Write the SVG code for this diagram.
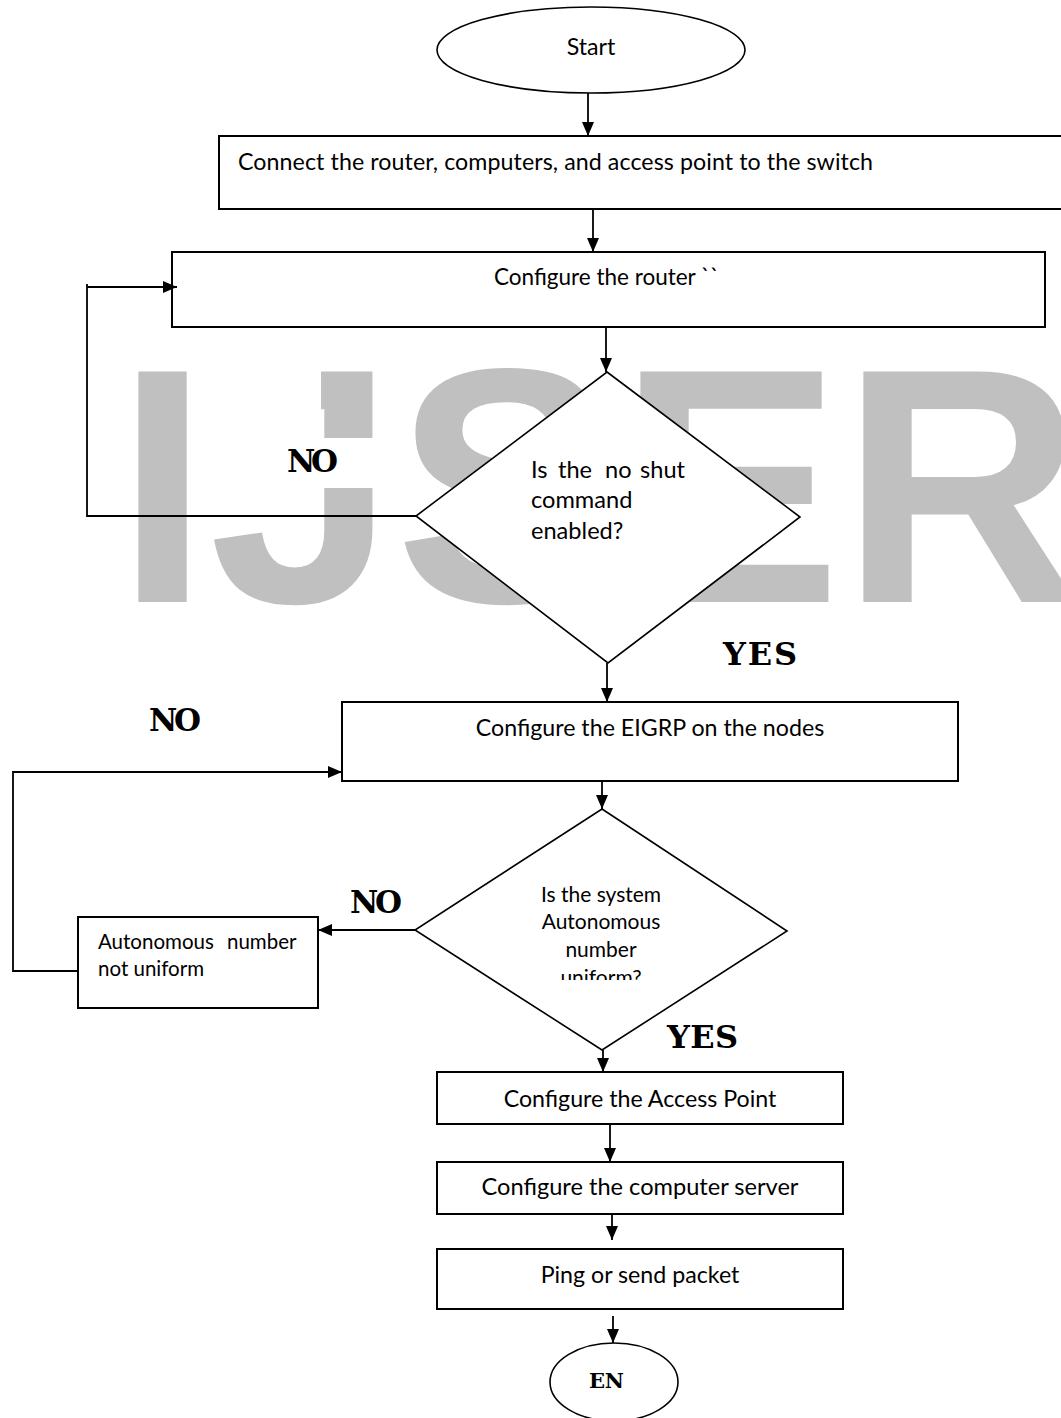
<svg xmlns="http://www.w3.org/2000/svg" width="1061" height="1418" viewBox="0 0 1061 1418">
<style>
  .bg{fill:#ffffff}
  .wm{font-family:"Liberation Sans",Arimo,Arial,sans-serif;font-weight:bold;font-size:335px;fill:#c0c0c0}
  .box{fill:#ffffff;stroke:#000000;stroke-width:2}
  .dia{fill:#ffffff;stroke:#000000;stroke-width:1.6}
  .ell{fill:#ffffff;stroke:#000000;stroke-width:1.6}
  .t{font-family:Lato,"Open Sans",sans-serif;font-size:23.2px;fill:#000000}
  .td{font-family:Lato,"Open Sans",sans-serif;font-size:23.6px;fill:#000000}
  .tb{font-family:Lato,"Open Sans",sans-serif;font-size:20.5px;fill:#000000}
  .ts{font-family:Lato,"Open Sans",sans-serif;font-size:21px;fill:#000000}
  .lbl{font-family:"DejaVu Serif",serif;font-weight:bold;font-size:31px;fill:#000000}
  .conn{fill:none;stroke:#000000;stroke-width:1.8}
</style>
<defs>
  <marker id="ah" markerUnits="userSpaceOnUse" markerWidth="14" markerHeight="12" viewBox="0 0 14 12" refX="14" refY="6" orient="auto">
    <path d="M0,0 L14,6 L0,12 z" fill="#000000"/>
  </marker>
  <clipPath id="clipD2"><rect x="400" y="800" width="400" height="180"/></clipPath>
</defs>
<rect class="bg" x="0" y="0" width="1061" height="1418"/>
<text class="wm" y="602"><tspan x="116">I</tspan><tspan x="209">J</tspan><tspan x="395">S</tspan><tspan x="618">E</tspan><tspan x="841">R</tspan></text>
<rect x="250" y="350" width="71" height="90" fill="#ffffff"/>

<g id="start">
  <ellipse class="ell" cx="591" cy="50" rx="154" ry="43"/>
  <text class="t" x="591" y="55" text-anchor="middle">Start</text>
</g>
<g id="connect">
  <rect class="box" x="219" y="136" width="850" height="73"/>
  <text class="t" x="238" y="170" textLength="635">Connect the router, computers, and access point to the switch</text>
</g>
<g id="configure-router">
  <rect class="box" x="172" y="252" width="873" height="75"/>
  <text class="t" x="494" y="285" style="font-size:22.5px">Configure the router ``</text>
</g>
<g id="decision-noshut">
  <polygon class="dia" points="607,372 800,517 608,663 416,516"/>
  <text class="td"><tspan x="531" y="478">Is</tspan><tspan x="558" y="478">the</tspan><tspan x="605" y="478">no</tspan><tspan x="640" y="478">shut</tspan><tspan x="531" y="508">command</tspan><tspan x="531" y="539">enabled?</tspan></text>
</g>
<g id="label-no1">
  <rect x="250" y="438" width="140" height="50" fill="#ffffff"/>
  <text class="lbl" x="287" y="472" textLength="51">NO</text>
</g>
<g id="label-yes1">
  <text class="lbl" x="723" y="665" textLength="74" style="font-size:32px">YES</text>
</g>
<g id="configure-eigrp">
  <rect class="box" x="342" y="702" width="616" height="79"/>
  <text class="t" x="650" y="736" text-anchor="middle">Configure the EIGRP on the nodes</text>
</g>
<g id="label-no2">
  <text class="lbl" x="149" y="731" textLength="52">NO</text>
</g>
<g id="decision-as">
  <polygon class="dia" points="602,809 787,931 602,1050 415,930"/>
  <g clip-path="url(#clipD2)">
    <text class="ts" text-anchor="middle"><tspan x="601" y="902">Is the system</tspan><tspan x="601" y="929">Autonomous</tspan><tspan x="601" y="957">number</tspan><tspan x="601" y="985">uniform?</tspan></text>
  </g>
</g>
<g id="label-no3">
  <text class="lbl" x="350" y="913" textLength="52">NO</text>
</g>
<g id="as-not-uniform">
  <rect class="box" x="78" y="917" width="240" height="91"/>
  <text class="tb"><tspan x="98" y="949">Autonomous</tspan><tspan x="227" y="949">number</tspan><tspan x="98" y="976">not uniform</tspan></text>
</g>
<g id="label-yes2">
  <text class="lbl" x="667" y="1048" textLength="71" style="font-size:32px">YES</text>
</g>
<g id="configure-ap">
  <rect class="box" x="437" y="1072" width="406" height="52"/>
  <text class="t" x="640" y="1107" text-anchor="middle">Configure the Access Point</text>
</g>
<g id="configure-server">
  <rect class="box" x="437" y="1162" width="406" height="52"/>
  <text class="t" x="640" y="1195" text-anchor="middle" style="font-size:23.6px">Configure the computer server</text>
</g>
<g id="ping">
  <rect class="box" x="437" y="1249" width="406" height="60"/>
  <text class="t" x="640" y="1283" text-anchor="middle">Ping or send packet</text>
</g>
<g id="end">
  <ellipse class="ell" cx="614" cy="1382" rx="64" ry="39"/>
  <text class="lbl" x="589" y="1388" style="font-size:21px" textLength="35">EN</text>
</g>

<g id="connectors">
  <path class="conn" d="M588,93 V136" marker-end="url(#ah)"/>
  <path class="conn" d="M593,209 V252" marker-end="url(#ah)"/>
  <path class="conn" d="M606,327 V372" marker-end="url(#ah)"/>
  <path class="conn" d="M416,516 H87 V284 M87,287 H177" marker-end="url(#ah)"/>
  <path class="conn" d="M607,663 V702" marker-end="url(#ah)"/>
  <path class="conn" d="M602,781 V809" marker-end="url(#ah)"/>
  <path class="conn" d="M415,930 H318" marker-end="url(#ah)"/>
  <path class="conn" d="M78,971 H13 V772 H342" marker-end="url(#ah)"/>
  <path class="conn" d="M603,1050 V1072" marker-end="url(#ah)"/>
  <path class="conn" d="M610,1124 V1162" marker-end="url(#ah)"/>
  <path class="conn" d="M612,1214 V1240" marker-end="url(#ah)"/>
  <path class="conn" d="M613,1316 V1343" marker-end="url(#ah)"/>
</g>
</svg>
